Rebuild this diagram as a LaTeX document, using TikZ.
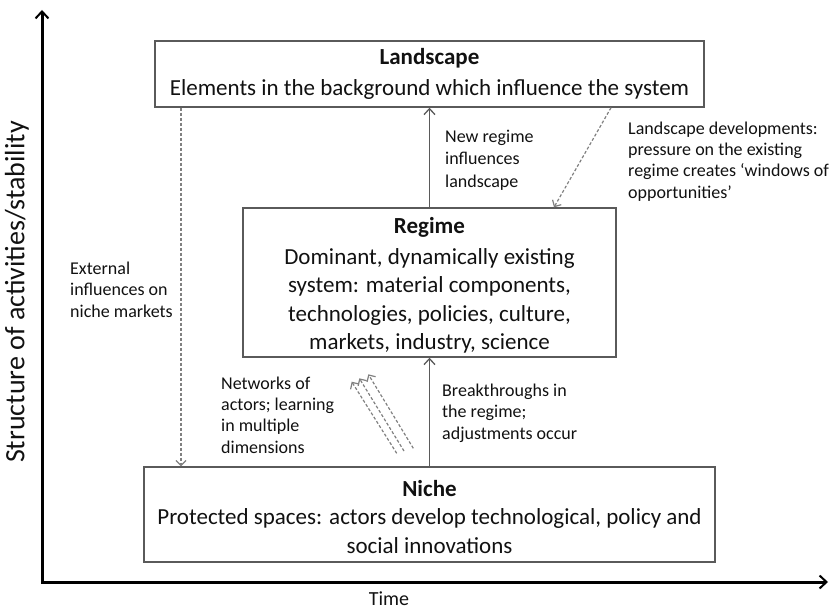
\documentclass[tikz,border=0pt]{standalone}
\usepackage{fontspec}
\setmainfont{Carlito}
\usetikzlibrary{arrows.meta}
\definecolor{boxgray}{HTML}{5A5A5A}
\definecolor{arrgray}{HTML}{5A5A5A}
\definecolor{dashgray}{HTML}{808080}
\definecolor{txt}{HTML}{111111}
\begin{document}
\begin{tikzpicture}[x=1pt,y=-1pt]
\tikzset{
 box/.style={draw=boxgray, line width=1.4pt, inner sep=0pt},
 boxtext/.style={inner sep=0pt, align=center,
   font=\fontsize{23}{28.5}\selectfont, text=txt},
 lbl/.style={align=left, inner sep=0pt, anchor=base west,
   font=\fontsize{18}{21.3}\selectfont, text=txt},
 solidarr/.style={draw=arrgray, line width=1.3pt, -{Straight Barb[length=6pt,width=11pt]}},
 dasharr/.style={draw=dashgray, line width=1.2pt, dash pattern=on 3pt off 2pt,
   -{Straight Barb[length=5pt,width=10pt]}},
 axisline/.style={line width=3pt, black, line join=miter,
   {Straight Barb[length=7pt,width=13pt,line width=2pt]}-{Straight Barb[length=7pt,width=13pt,line width=2pt]}}
}
\useasboundingbox (0,0) rectangle (830,610);

% axes
\coordinate (ytop) at (42,10);
\coordinate (orig) at (42,582);
\coordinate (xend) at (828,582);
\draw[axisline] (ytop) -- (orig) -- (xend);
\node[rotate=90, font=\fontsize{28}{32}\selectfont, text=txt] (ylab) at (17,292) {Structure of activities/stability};
\node[font=\fontsize{20}{24}\selectfont, text=txt] (xlab) at (389,599) {Time};

% boxes
\node[box, minimum width=549pt, minimum height=66pt] (land) at (429.5,74) {};
\node[boxtext] (landt) at (429.5,74)
  {{\bfseries Landscape}\\[2pt]Elements in the background which influence the system};
\node[box, minimum width=373pt, minimum height=149pt] (reg) at (429.5,282.5) {};
\node[boxtext] (regt) at (429.5,285.5)
  {{\bfseries Regime}\\[2pt]Dominant, dynamically existing\\system: material components,\\technologies, policies, culture,\\markets, industry, science};
\node[box, minimum width=571pt, minimum height=95pt] (niche) at (429.5,514.5) {};
\node[boxtext] (nichet) at (429.5,517)
  {{\bfseries Niche}\\Protected spaces: actors develop technological, policy and\\social innovations};

% labels (anchor = baseline of last line)
\node[lbl, font=\fontsize{18}{22.5}\selectfont] (lnew) at (445,187) {New regime\\influences\\landscape};
\node[lbl] (ldev) at (628,198) {Landscape developments:\\pressure on the existing\\regime creates ‘windows of\\opportunities’};
\node[lbl] (lext) at (70,317) {External\\influences on\\niche markets};
\node[lbl] (lnet) at (221,453) {Networks of\\actors; learning\\in multiple\\dimensions};
\node[lbl] (lbrk) at (442,439) {Breakthroughs in\\the regime;\\adjustments occur};

% connectors
\draw[solidarr] (niche.north) -- (reg.south);
\draw[solidarr] (reg.north) -- (land.south);
\coordinate (exx) at (181,0);
\draw[dasharr] (exx |- land.south) -- (exx |- niche.north);
\coordinate (ldA) at (611,0);
\coordinate (ldB) at (554,0);
\draw[dasharr] (ldA |- land.south) -- (ldB |- reg.north);

% network arrows
\coordinate (n1a) at (396.7,453.3); \coordinate (n1b) at (351.7,381.7);
\coordinate (n2a) at (404.0,451.0); \coordinate (n2b) at (359.3,378.3);
\coordinate (n3a) at (413.3,448.3); \coordinate (n3b) at (368.3,374.3);
\draw[dasharr] (n1a) -- (n1b);
\draw[dasharr] (n2a) -- (n2b);
\draw[dasharr] (n3a) -- (n3b);
\end{tikzpicture}
\end{document}
